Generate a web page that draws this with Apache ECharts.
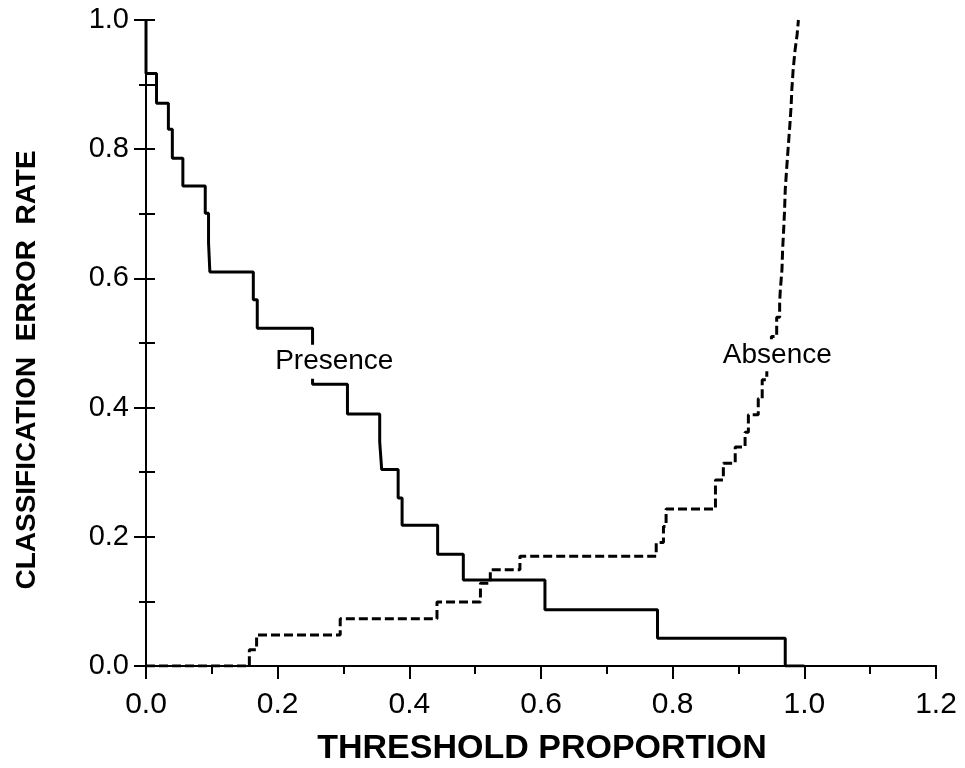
<!DOCTYPE html>
<html>
<head>
<meta charset="utf-8">
<script src="https://cdn.jsdelivr.net/npm/echarts@6/dist/echarts.min.js"></script>
<style>
html,body{margin:0;padding:0;background:#fff;}
#chart{width:965px;height:768px;}
</style>
</head>
<body>
<div id="chart"></div>
<script>
// Presence error rate (solid step line): threshold breakpoints and value after each
const presenceX = [0, 0, 0.016, 0.034, 0.040, 0.056, 0.090, 0.095, 0.097, 0.163, 0.169, 0.253, 0.306, 0.355, 0.358, 0.383, 0.389, 0.443, 0.482, 0.606, 0.777, 0.971, 1.0];
const presenceY = [1.0, 0.917, 0.871, 0.831, 0.786, 0.743, 0.701, 0.655, 0.610, 0.567, 0.523, 0.436, 0.390, 0.347, 0.304, 0.260, 0.218, 0.173, 0.133, 0.087, 0.043, 0.0, 0.0];

// Absence error rate (dashed step line)
const absenceX = [0, 0.157, 0.168, 0.295, 0.442, 0.508, 0.523, 0.568, 0.775, 0.786, 0.790, 0.865, 0.877, 0.895, 0.910, 0.915, 0.930, 0.936, 0.943, 0.950, 0.958, 0.9625, 0.9635, 0.966, 0.967, 0.9686, 0.970, 0.971, 0.973, 0.976, 0.978, 0.980, 0.981, 0.983, 0.986, 0.989, 0.991];
const absenceY = [0, 0.025, 0.048, 0.073, 0.099, 0.128, 0.149, 0.170, 0.191, 0.216, 0.243, 0.288, 0.314, 0.339, 0.362, 0.389, 0.414, 0.443, 0.475, 0.510, 0.540, 0.562, 0.582, 0.613, 0.644, 0.675, 0.706, 0.737, 0.768, 0.810, 0.837, 0.868, 0.892, 0.923, 0.954, 0.977, 1.0];

const xTicks = [0.0, 0.2, 0.4, 0.6, 0.8, 1.0, 1.2];
const yTicks = [0.0, 0.2, 0.4, 0.6, 0.8, 1.0];

const xTitle = 'THRESHOLD PROPORTION';
const yTitle = 'CLASSIFICATION  ERROR  RATE';
const presenceLabel = 'Presence';
const absenceLabel = 'Absence';

const FONT = '"Liberation Sans", Arial, Helvetica, sans-serif';
const zip = (xs, ys) => xs.map((x, i) => [x, ys[i]]);

const chart = echarts.init(document.getElementById('chart'), null, {renderer: 'canvas'});

const axisLineStyle = {color: '#000', width: 2};

const option = {
  backgroundColor: '#fff',
  animation: false,
  grid: {left: 146, right: 29, top: 20, bottom: 102, containLabel: false},
  xAxis: [
    {
      type: 'value', position: 'bottom',
      min: xTicks[0], max: xTicks[xTicks.length - 1], interval: 0.2,
      axisLine: {show: true, lineStyle: axisLineStyle},
      axisTick: {show: true, inside: false, length: 13, lineStyle: {color: '#000', width: 2}},
      minorTick: {show: true, splitNumber: 2, length: 8, lineStyle: {color: '#000', width: 2}},
      axisLabel: {formatter: v => v.toFixed(1), fontSize: 30, color: '#000', fontFamily: FONT, margin: 24},
      splitLine: {show: false}, minorSplitLine: {show: false}
    },
    {
      type: 'value', position: 'top',
      min: xTicks[0], max: xTicks[xTicks.length - 1], interval: 0.2,
      axisLine: {show: true, lineStyle: axisLineStyle},
      axisTick: {show: false}, axisLabel: {show: false},
      splitLine: {show: false}
    }
  ],
  yAxis: [
    {
      type: 'value', position: 'left',
      min: yTicks[0], max: yTicks[yTicks.length - 1], interval: 0.2,
      axisLine: {show: true, lineStyle: axisLineStyle},
      axisTick: {show: true, inside: false, length: 12, lineStyle: {color: '#000', width: 2}},
      minorTick: {show: true, splitNumber: 2, length: 7, lineStyle: {color: '#000', width: 2}},
      axisLabel: {formatter: v => v.toFixed(1), fontSize: 29, color: '#000', fontFamily: FONT, margin: 17},
      splitLine: {show: false}, minorSplitLine: {show: false}
    },
    {
      type: 'value', position: 'right',
      min: yTicks[0], max: yTicks[yTicks.length - 1], interval: 0.2,
      axisLine: {show: true, lineStyle: axisLineStyle},
      axisTick: {show: true, inside: false, length: 9, lineStyle: {color: '#000', width: 2}},
      minorTick: {show: true, splitNumber: 2, length: 9, lineStyle: {color: '#000', width: 2}},
      axisLabel: {show: false},
      splitLine: {show: false}
    }
  ],
  series: [
    {
      name: 'Presence', type: 'line', step: 'end',
      xAxisIndex: 0, yAxisIndex: 0,
      data: zip(presenceX, presenceY),
      showSymbol: false, symbol: 'none',
      lineStyle: {color: '#000', width: 3, type: 'solid'},
      z: 3,
      markPoint: {
        symbol: 'rect', symbolSize: 0, z: 10,
        data: [{coord: [0.286, 0.471]}],
        label: {
          show: true, position: 'inside', formatter: presenceLabel,
          fontSize: 28, fontFamily: FONT, color: '#000',
          backgroundColor: '#fff', padding: [2, 4, 4, 4]
        }
      }
    },
    {
      name: 'Absence', type: 'line', step: 'end',
      xAxisIndex: 0, yAxisIndex: 0,
      data: zip(absenceX, absenceY),
      showSymbol: false, symbol: 'none',
      lineStyle: {color: '#000', width: 3, type: [9, 4]},
      z: 3,
      markPoint: {
        symbol: 'rect', symbolSize: 0, z: 10,
        data: [{coord: [0.959, 0.481]}],
        label: {
          show: true, position: 'inside', formatter: absenceLabel,
          fontSize: 28, fontFamily: FONT, color: '#000',
          backgroundColor: '#fff', padding: [2, 4, 2, 4]
        }
      }
    }
  ],
  graphic: [
    {
      type: 'text', x: 542, y: 749,
      style: {text: xTitle, fontSize: 34, fontWeight: 'bold', fontFamily: FONT, fill: '#000', align: 'center', verticalAlign: 'middle'}
    },
    {
      type: 'text', x: 27, y: 370, rotation: Math.PI / 2,
      style: {text: yTitle, fontSize: 28, fontWeight: 'bold', fontFamily: FONT, fill: '#000', align: 'center', verticalAlign: 'middle'}
    }
  ]
};

chart.setOption(option);
</script>
</body>
</html>
